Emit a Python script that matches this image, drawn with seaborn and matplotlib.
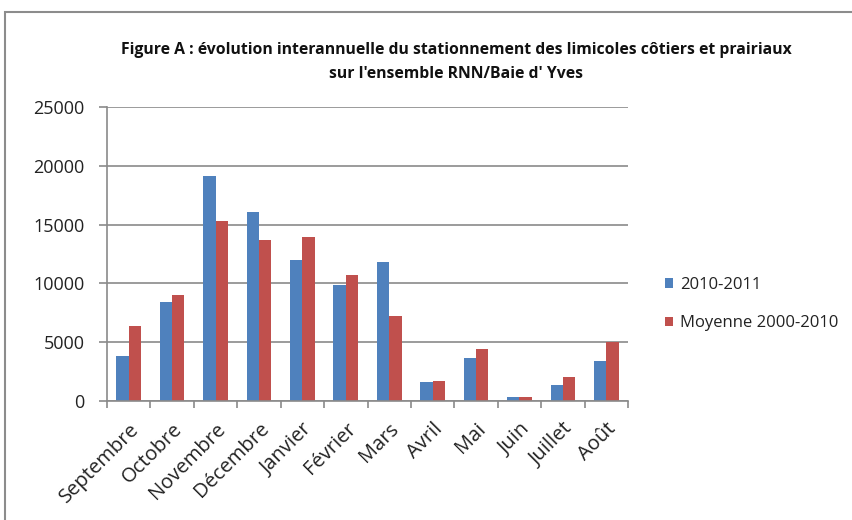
import matplotlib
matplotlib.use("Agg")
import matplotlib.pyplot as plt
import seaborn as sns
import pandas as pd
from matplotlib.patches import Rectangle

months = ["Septembre", "Octobre", "Novembre", "Décembre", "Janvier", "Février",
          "Mars", "Avril", "Mai", "Juin", "Juillet", "Août"]
s2010 = [3800, 8400, 19100, 16100, 12000, 9850, 11800, 1580, 3680, 370, 1360, 3400]
moy = [6370, 9000, 15330, 13690, 13970, 10750, 7200, 1670, 4380, 370, 2030, 4980]
series = ["2010-2011", "Moyenne 2000-2010"]
yticks = [0, 5000, 10000, 15000, 20000, 25000]
title = "Figure A : évolution interannuelle du stationnement des limicoles côtiers et prairiaux\nsur l'ensemble RNN/Baie d' Yves"

df = pd.DataFrame({
    "Mois": months * 2,
    "Valeur": s2010 + moy,
    "Série": [series[0]] * len(months) + [series[1]] * len(months),
})

sns.set_style("white")
plt.rcParams['font.family'] = ['Open Sans', 'DejaVu Sans']

fig = plt.figure(figsize=(8.52, 5.2), dpi=100)
ax = fig.add_axes([107/852, 1-401/520, (628-107)/852, (401-107)/520])

sns.barplot(data=df, x="Mois", y="Valeur", hue="Série", order=months,
            palette=["#4F81BD", "#C0504D"], width=0.57, ax=ax,
            edgecolor="none", linewidth=0, saturation=1, legend=True)

ax.set_ylim(0, 25000)
ax.set_xlim(-0.5, len(months) - 0.5)
ax.set_yticks(yticks)
ax.set_yticklabels([str(v) for v in yticks], fontsize=13, color="#222222")
ax.set_xticks(range(len(months)))
ax.set_xticklabels(months, rotation=45, ha="right", rotation_mode="anchor",
                   fontsize=14.5, color="#222222")
ax.set_xlabel("")
ax.set_ylabel("")
ax.yaxis.grid(True, color="#8a8a8a", linewidth=1.2)
ax.set_axisbelow(True)
for side in ["top", "right"]:
    ax.spines[side].set_visible(False)
for side in ["left", "bottom"]:
    ax.spines[side].set_color("#8a8a8a")
    ax.spines[side].set_linewidth(1.2)
ax.tick_params(axis="y", length=6, color="#8a8a8a", width=1.2, pad=10, left=True)
ax.tick_params(axis="x", length=0, pad=13)
# category boundary ticks on x axis
ax.set_xticks([i - 0.5 for i in range(len(months) + 1)], minor=True)
ax.tick_params(axis="x", which="minor", length=5, color="#8a8a8a", width=1.2, bottom=True)

leg = ax.legend(loc="center left", bbox_to_anchor=(650/852, 1-304/520),
                bbox_transform=fig.transFigure, frameon=False, fontsize=12,
                handlelength=0.5, handleheight=0.5, handletextpad=0.4,
                labelspacing=1.35)
for t in leg.get_texts():
    t.set_color("#222222")

fig.text(456/852, 1-62/520, title, ha="center", va="center", fontsize=11.3,
         fontweight="bold", linespacing=1.6, color="#111111")

fig.patches.append(Rectangle((5/852, -0.1), 1.0, 1 - 12/520 + 0.1,
                             transform=fig.transFigure, fill=False,
                             edgecolor="#8c8c8c", linewidth=1.5))

fig.savefig("out.png", dpi=100)
